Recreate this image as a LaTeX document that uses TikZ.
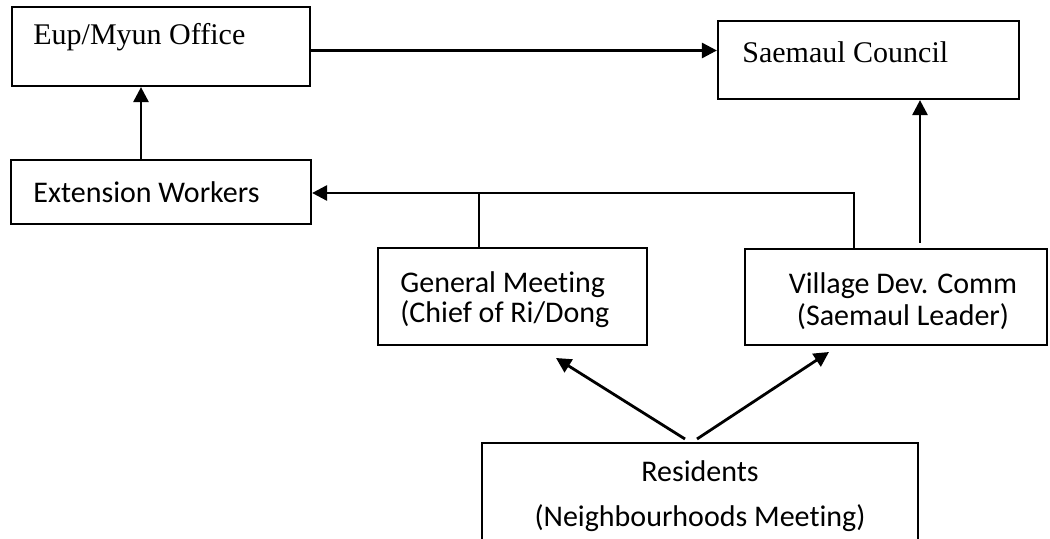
\documentclass[tikz,border=0pt]{standalone}
\usepackage{fontspec}
\setmainfont[Ligatures=NoCommon]{Liberation Serif}
\newfontfamily\calibri[Ligatures=NoCommon]{Carlito}
\usetikzlibrary{arrows.meta}
\begin{document}
\begin{tikzpicture}[x=0.5pt,y=-0.5pt,
  box/.style={draw, line width=1.1pt, inner sep=0pt},
  conn/.style={line width=1.4pt},
  arr/.style={conn, -{Triangle[length=7.5pt,width=7.5pt]}},
  serif/.style={font=\fontsize{15}{18}\selectfont, inner sep=0pt, anchor=west},
  sans/.style={font=\calibri\fontsize{15}{18}\selectfont, inner sep=0pt},
]
\clip (0,0) rectangle (1050,539);

% boxes
\node[box, minimum width=149pt, minimum height=39.5pt] (eup) at (161,46.5) {};
\node[box, minimum width=150.5pt, minimum height=39pt] (sae) at (868.5,60) {};
\node[box, minimum width=150pt, minimum height=32pt] (ext) at (161,192) {};
\node[box, minimum width=134.5pt, minimum height=48.5pt] (gen) at (512.5,296.5) {};
\node[box, minimum width=151pt, minimum height=48pt] (vil) at (896,297) {};
\node[box, minimum width=218pt, minimum height=63.5pt] (res) at (700,506.5) {};

% labels
\node[serif] (eupT) at (33,37) {Eup/Myun Office};
\node[serif] (saeT) at (742,52) {Saemaul Council};
\node[sans, anchor=west] (extT) at (33,192) {Extension Workers};
\node[sans, anchor=west, align=left, font=\calibri\fontsize{15}{15}\selectfont] (genT) at (400,300)
  {General Meeting\\(Chief of Ri/Dong};
\node[sans, align=center, font=\calibri\fontsize{15}{16}\selectfont] (vilT) at (903,301)
  {Village Dev. Comm\\(Saemaul Leader)};
\node[sans, align=center, font=\calibri\fontsize{15}{22.5}\selectfont] (resT) at (700,496)
  {Residents\\(Neighbourhoods Meeting)};

% connector points
\coordinate (gj) at (479,193);
\coordinate (vj) at (854,193);
\coordinate (vs) at (920,243);
\coordinate (rl) at (685,439);
\coordinate (rr) at (697,439);
\coordinate (gt) at (556,358);
\coordinate (vt) at (829,352);

% connectors
\draw[arr] ([yshift=-2pt]eup.east) -- ([yshift=-2pt]eup.east -| sae.west);
\draw[arr] ([xshift=-10pt]ext.north) -- ([xshift=-10pt]eup.south);
\draw[conn] (gen.north -| gj) -- (gj);
\draw[arr] (vil.north -| vj) -- (vj) -- (vj -| ext.east);
\draw[arr] (vs) -- (vs |- sae.south);
\draw[arr] (rl) -- (gt);
\draw[arr] (rr) -- (vt);
\end{tikzpicture}
\end{document}
